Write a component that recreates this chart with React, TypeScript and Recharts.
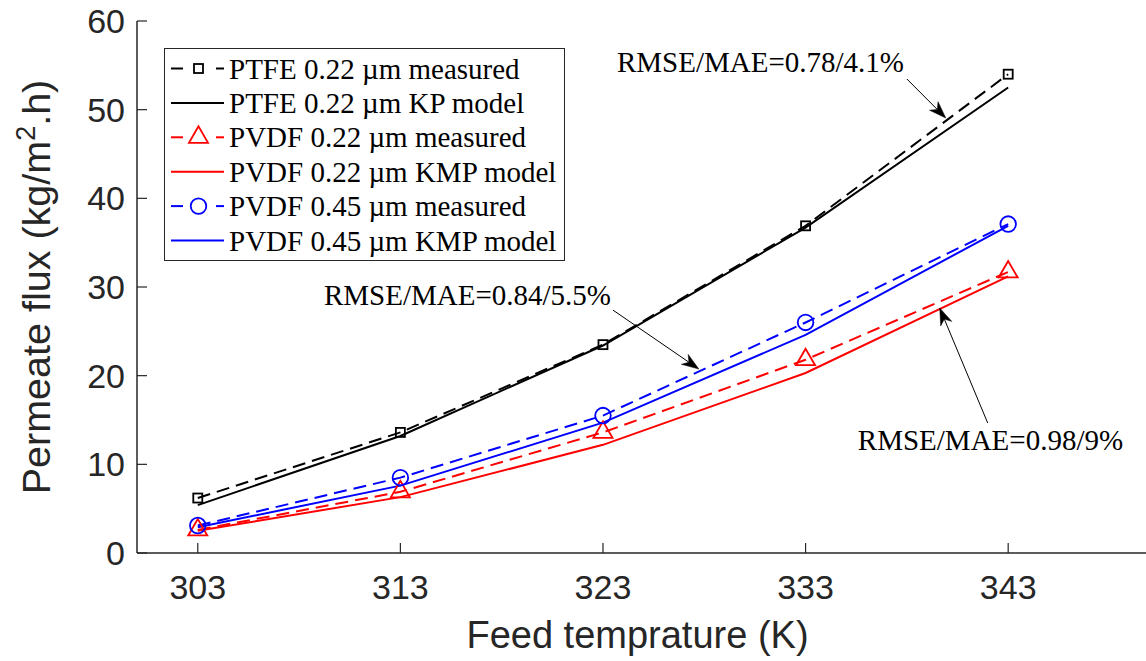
import React from 'react';
import { LineChart, Line, XAxis, YAxis, ReferenceLine, ReferenceDot, Legend } from 'recharts';

const temperatures = [303, 313, 323, 333, 343];
const ptfeMeasured = [6.2, 13.6, 23.5, 36.9, 54.0];
const ptfeModel = [5.4, 13.2, 23.4, 36.7, 52.5];
const pvdf22Measured = [2.6, 6.9, 13.6, 21.8, 31.7];
const pvdf22Model = [2.5, 6.3, 12.2, 20.3, 31.2];
const pvdf45Measured = [3.1, 8.5, 15.5, 26.0, 37.1];
const pvdf45Model = [2.9, 7.6, 14.7, 24.6, 36.9];

const xTicks = [303, 313, 323, 333, 343];
const yTicks = [0, 10, 20, 30, 40, 50, 60];
const xDomain: [number, number] = [300, 350];
const yDomain: [number, number] = [0, 60];

const annotationTexts = ['RMSE/MAE=0.78/4.1%', 'RMSE/MAE=0.84/5.5%', 'RMSE/MAE=0.98/9%'];
const annotationAnchors = [
  { x: 323.69, y: 54.25 },
  { x: 309.23, y: 27.97 },
  { x: 335.58, y: 11.62 },
];
const arrowSegments = [
  [{ x: 338.0, y: 53.46 }, { x: 339.92, y: 49.06 }],
  [{ x: 323.49, y: 27.4 }, { x: 327.73, y: 20.75 }],
  [{ x: 341.99, y: 14.66 }, { x: 339.62, y: 27.63 }],
];

const data = temperatures.map((t, i) => ({
  T: t,
  ptfeMeas: ptfeMeasured[i],
  ptfeMod: ptfeModel[i],
  p22Meas: pvdf22Measured[i],
  p22Mod: pvdf22Model[i],
  p45Meas: pvdf45Measured[i],
  p45Mod: pvdf45Model[i],
}));

type Marker = 'square' | 'triangle' | 'circle' | 'none';
const series: { key: string; name: string; color: string; dashed: boolean; marker: Marker }[] = [
  { key: 'ptfeMeas', name: 'PTFE 0.22 \u00b5m measured', color: '#000000', dashed: true, marker: 'square' },
  { key: 'ptfeMod', name: 'PTFE 0.22 \u00b5m KP model', color: '#000000', dashed: false, marker: 'none' },
  { key: 'p22Meas', name: 'PVDF 0.22 \u00b5m measured', color: '#ff0000', dashed: true, marker: 'triangle' },
  { key: 'p22Mod', name: 'PVDF 0.22 \u00b5m KMP model', color: '#ff0000', dashed: false, marker: 'none' },
  { key: 'p45Meas', name: 'PVDF 0.45 \u00b5m measured', color: '#0000ff', dashed: true, marker: 'circle' },
  { key: 'p45Mod', name: 'PVDF 0.45 \u00b5m KMP model', color: '#0000ff', dashed: false, marker: 'none' },
];

const DASH = '13 7';
const AXIS_COLOR = '#262626';
const SANS = '"Liberation Sans", Arial, sans-serif';
const SERIF = '"Liberation Serif", "Times New Roman", serif';

function markerShape(marker: Marker, cx: number, cy: number, color: string, key?: any) {
  if (marker === 'square') {
    return <rect key={key} x={cx - 4.5} y={cy - 4.5} width={9} height={9} fill="none" stroke={color} strokeWidth={1.8} />;
  }
  if (marker === 'triangle') {
    const r = 11;
    const pts = `${cx},${cy - r} ${cx - r * 0.866},${cy + r / 2} ${cx + r * 0.866},${cy + r / 2}`;
    return <polygon key={key} points={pts} fill="none" stroke={color} strokeWidth={1.8} />;
  }
  if (marker === 'circle') {
    return <circle key={key} cx={cx} cy={cy} r={7.8} fill="none" stroke={color} strokeWidth={1.8} />;
  }
  return <g key={key} />;
}

const makeDot = (marker: Marker, color: string) => (props: any) => {
  const { cx, cy, key, index } = props;
  if (cx == null || cy == null) return <g key={key ?? index} />;
  return markerShape(marker, cx, cy, color, key ?? index);
};

const arrowShape = (p: any) => {
  const { x1, y1, x2, y2 } = p;
  const ang = Math.atan2(y2 - y1, x2 - x1);
  const c = Math.cos(ang);
  const s = Math.sin(ang);
  const L = 17;
  const W = 6;
  const notch = 12;
  const bx = x2 - L * c;
  const by = y2 - L * s;
  const px = -s;
  const py = c;
  const nx = x2 - notch * c;
  const ny = y2 - notch * s;
  const pts = `${x2},${y2} ${bx + W * px},${by + W * py} ${nx},${ny} ${bx - W * px},${by - W * py}`;
  return (
    <g>
      <line x1={x1} y1={y1} x2={nx} y2={ny} stroke="#000" strokeWidth={1} />
      <polygon points={pts} fill="#000" stroke="#000" strokeWidth={0.5} />
    </g>
  );
};

const makeTextShape = (text: string) => (p: any) => (
  <text x={p.cx} y={p.cy} fontFamily={SERIF} fontSize={29} fill="#000">
    {text}
  </text>
);

const LegendBox = () => {
  const W = 400;
  const H = 212;
  const rowY0 = 20.5;
  const pitch = 34.4;
  return (
    <svg width={W + 2} height={H + 2} style={{ display: 'block' }}>
      <rect x={0.5} y={0.5} width={W} height={H} fill="#ffffff" stroke={AXIS_COLOR} strokeWidth={1} />
      {series.map((s, i) => {
        const cy = rowY0 + i * pitch;
        return (
          <g key={s.key}>
            {s.dashed ? (
              <>
                <line x1={7} y1={cy} x2={19} y2={cy} stroke={s.color} strokeWidth={2} />
                <line x1={52} y1={cy} x2={60} y2={cy} stroke={s.color} strokeWidth={2} />
                {markerShape(s.marker, 34.5, cy, s.color)}
              </>
            ) : (
              <line x1={7} y1={cy} x2={60} y2={cy} stroke={s.color} strokeWidth={2} />
            )}
            <text x={65} y={cy + 10} fontFamily={SERIF} fontSize={29} fill="#000">
              {s.name}
            </text>
          </g>
        );
      })}
    </svg>
  );
};

const YLabel = (props: any) => {
  const vb = props.viewBox || { x: 0, y: 21, width: 137, height: 532 };
  const cx = vb.x + 50;
  const cy = vb.y + vb.height / 2;
  return (
    <text
      x={cx}
      y={cy}
      transform={`rotate(-90 ${cx} ${cy})`}
      textAnchor="middle"
      fontFamily={SANS}
      fontSize={39.5}
      fill={AXIS_COLOR}
    >
      Permeate flux (kg/m
      <tspan dy={-15} fontSize={27}>2</tspan>
      <tspan dy={15}>.h)</tspan>
    </text>
  );
};

const XLabel = (props: any) => {
  const vb = props.viewBox || { x: 137, y: 553, width: 1013, height: 108 };
  return (
    <text
      x={vb.x + vb.width / 2 - 6}
      y={vb.y + 95}
      textAnchor="middle"
      fontFamily={SANS}
      fontSize={38}
      fill={AXIS_COLOR}
    >
      Feed temprature (K)
    </text>
  );
};

export default function App() {
  const tickStyle = { fontFamily: SANS, fontSize: 34, fill: AXIS_COLOR };
  return (
    <div style={{ position: 'absolute', left: 0, top: 0, width: 1146, height: 661, overflow: 'hidden', background: '#fff' }}>
      <LineChart width={1163} height={661} data={data} margin={{ top: 21, right: 13, bottom: 0, left: 0 }}>
        <XAxis
          xAxisId={0}
          dataKey="T"
          type="number"
          domain={xDomain}
          ticks={xTicks}
          allowDataOverflow
          height={108}
          tickSize={-10}
          tickMargin={32}
          tick={tickStyle}
          stroke={AXIS_COLOR}
          axisLine={{ stroke: AXIS_COLOR, strokeWidth: 1.5 }}
          tickLine={{ stroke: AXIS_COLOR, strokeWidth: 1.2 }}
          label={{ content: XLabel }}
        />
        <XAxis
          xAxisId="top"
          orientation="top"
          dataKey="T"
          type="number"
          domain={xDomain}
          ticks={xTicks}
          allowDataOverflow
          height={0}
          tickSize={-10}
          tick={false}
          axisLine={{ stroke: AXIS_COLOR, strokeWidth: 1.5 }}
          tickLine={{ stroke: AXIS_COLOR, strokeWidth: 1.2 }}
        />
        <YAxis
          yAxisId={0}
          type="number"
          domain={yDomain}
          ticks={yTicks}
          allowDataOverflow
          width={137}
          tickSize={-10}
          tickMargin={22}
          tick={tickStyle}
          axisLine={{ stroke: AXIS_COLOR, strokeWidth: 1.5 }}
          tickLine={{ stroke: AXIS_COLOR, strokeWidth: 1.2 }}
          label={{ content: YLabel }}
        />
        <YAxis
          yAxisId="right"
          orientation="right"
          type="number"
          domain={yDomain}
          ticks={yTicks}
          allowDataOverflow
          width={0}
          tickSize={-10}
          tick={false}
          axisLine={{ stroke: AXIS_COLOR, strokeWidth: 1.5 }}
          tickLine={{ stroke: AXIS_COLOR, strokeWidth: 1.2 }}
        />
        {series.map((s) => (
          <Line
            key={s.key}
            xAxisId={0}
            yAxisId={0}
            type="linear"
            dataKey={s.key}
            name={s.name}
            stroke={s.color}
            strokeWidth={2}
            strokeDasharray={s.dashed ? DASH : undefined}
            dot={s.marker === 'none' ? false : makeDot(s.marker, s.color)}
            activeDot={false}
            isAnimationActive={false}
          />
        ))}
        {arrowSegments.map((seg, i) => (
          <ReferenceLine
            key={`arrow-${i}`}
            xAxisId={0}
            yAxisId={0}
            segment={seg}
            ifOverflow="visible"
            shape={arrowShape}
          />
        ))}
        {annotationAnchors.map((a, i) => (
          <ReferenceDot
            key={`txt-${i}`}
            xAxisId={0}
            yAxisId={0}
            x={a.x}
            y={a.y}
            r={0}
            ifOverflow="visible"
            shape={makeTextShape(annotationTexts[i])}
          />
        ))}
        <Legend
          layout="vertical"
          align="center"
          verticalAlign="middle"
          wrapperStyle={{ left: 164, top: 48, width: 402, height: 214 }}
          content={() => <LegendBox />}
        />
      </LineChart>
    </div>
  );
}
